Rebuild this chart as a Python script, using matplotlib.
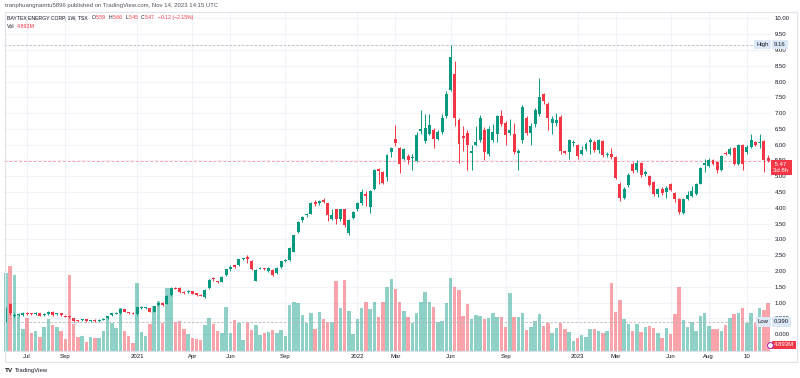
import matplotlib
matplotlib.use("Agg")
import matplotlib.pyplot as plt
import matplotlib.transforms as mtransforms
from matplotlib.lines import Line2D
from matplotlib.patches import Rectangle
import numpy as np

# ---- BAYTEX ENERGY CORP (TSX), weekly candles, Jun 2020 -> Nov 2023 ----
opens = [0.40, 0.97, 0.58, 0.61, 0.61, 0.67, 0.66, 0.63, 0.66, 0.61,
         0.64, 0.71, 0.63, 0.66, 0.59, 0.57, 0.51, 0.44, 0.45, 0.47,
         0.41, 0.45, 0.41, 0.46, 0.50, 0.60, 0.65, 0.66, 0.80, 0.68,
         0.68, 0.64, 0.82, 0.83, 0.82, 0.72, 0.92, 1.00, 0.97, 1.24,
         1.47, 1.46, 1.35, 1.33, 1.36, 1.29,
         1.25, 1.18, 1.45, 1.78, 1.68, 1.66, 1.87, 2.08, 2.18, 2.18,
         2.37, 2.43, 2.32, 1.69, 2.07, 2.08, 2.00, 2.03, 1.94, 2.13,
         2.31, 2.34, 2.61, 3.24, 3.61, 3.76, 3.82, 4.19, 4.15, 4.24,
         4.14, 3.66, 3.95, 3.64, 3.95, 3.21, 3.69, 3.95, 4.14, 4.45,
         4.03, 4.61, 5.22, 5.14, 4.97, 5.76, 6.17,
         5.88, 5.56, 5.63, 5.57, 5.49, 6.43, 6.12, 6.35, 6.48, 6.19,
         6.40, 6.90, 7.74, 8.23, 6.79, 6.28, 6.37, 5.74, 6.00, 6.16,
         6.46, 5.70, 6.16, 6.33, 6.91, 6.70, 6.38, 6.33, 5.74, 6.14,
         6.83, 6.37, 6.65, 6.98, 7.59, 7.30, 6.70, 6.70, 6.88, 5.80,
         5.77, 6.05, 6.00, 5.72, 5.86, 6.10, 6.10, 5.84,
         6.12, 5.68, 5.72, 5.61, 4.77, 4.32, 4.71, 5.40, 5.19, 5.42,
         5.08, 5.00, 4.82, 4.43, 4.61, 4.50, 4.77, 4.47, 4.27, 3.85,
         4.29, 4.38, 4.45, 4.77, 5.37, 5.33, 5.51, 5.45, 5.21, 5.74,
         5.72, 5.88, 5.38, 5.98, 5.77, 5.92, 6.09, 6.05, 6.12, 5.59]
highs = [0.85, 0.99, 0.66, 0.67, 0.70, 0.70, 0.68, 0.69, 0.68, 0.67,
         0.73, 0.74, 0.68, 0.68, 0.61, 0.58, 0.52, 0.46, 0.48, 0.48,
         0.46, 0.47, 0.47, 0.50, 0.59, 0.68, 0.69, 0.82, 0.81, 0.70,
         0.70, 0.87, 0.88, 0.86, 0.84, 0.91, 1.02, 1.02, 1.24, 1.48,
         1.50, 1.48, 1.37, 1.39, 1.37, 1.30,
         1.27, 1.43, 1.74, 1.82, 1.70, 1.83, 2.08, 2.18, 2.20, 2.39,
         2.42, 2.50, 2.35, 2.05, 2.13, 2.10, 2.12, 2.05, 2.12, 2.33,
         2.37, 2.75, 3.15, 3.60, 3.75, 3.84, 4.18, 4.26, 4.25, 4.30,
         4.16, 3.95, 3.97, 3.98, 3.97, 3.64, 3.90, 4.20, 4.60, 4.52,
         4.56, 5.22, 5.25, 5.16, 5.72, 5.93, 6.61,
         5.92, 5.90, 5.70, 5.70, 6.40, 7.11, 6.97, 6.98, 6.52, 6.45,
         6.98, 7.70, 9.16, 8.65, 6.85, 6.60, 6.45, 6.00, 6.60, 6.95,
         6.55, 6.60, 6.65, 6.95, 7.10, 6.75, 6.80, 6.70, 5.85, 7.25,
         6.90, 6.70, 7.15, 8.11, 7.65, 7.35, 6.90, 7.00, 6.95, 5.82,
         6.18, 6.15, 6.03, 5.95, 6.07, 6.20, 6.15, 6.19,
         6.15, 5.76, 5.90, 5.64, 4.82, 4.65, 5.10, 5.45, 5.50, 5.46,
         5.20, 5.05, 4.86, 4.64, 4.65, 4.70, 4.80, 4.50, 4.30, 4.32,
         4.55, 4.70, 4.78, 5.30, 5.55, 5.58, 5.55, 5.48, 5.66, 5.80,
         5.92, 5.92, 6.02, 6.02, 6.00, 6.35, 6.12, 6.35, 6.15, 5.66]
lows = [0.39, 0.62, 0.55, 0.57, 0.59, 0.62, 0.61, 0.61, 0.57, 0.59,
        0.62, 0.59, 0.61, 0.59, 0.54, 0.53, 0.40, 0.40, 0.43, 0.40,
        0.40, 0.40, 0.40, 0.44, 0.48, 0.58, 0.63, 0.64, 0.70, 0.64,
        0.63, 0.62, 0.80, 0.81, 0.70, 0.70, 0.90, 0.91, 0.95, 1.22,
        1.42, 1.30, 1.28, 1.31, 1.26, 1.22,
        1.20, 1.16, 1.43, 1.70, 1.62, 1.64, 1.85, 2.00, 2.10, 2.15,
        2.35, 2.25, 2.03, 1.67, 2.05, 2.03, 1.98, 1.85, 1.92, 2.11,
        2.29, 2.32, 2.59, 3.20, 3.55, 3.70, 3.80, 4.05, 4.10, 4.14,
        3.60, 3.62, 3.50, 3.60, 3.40, 3.15, 3.66, 3.90, 4.10, 4.05,
        3.85, 4.58, 4.75, 4.75, 4.85, 5.60, 5.95,
        5.09, 5.50, 5.40, 5.21, 5.45, 6.35, 6.05, 6.30, 5.90, 6.15,
        6.35, 6.85, 7.70, 6.60, 5.43, 5.80, 5.19, 5.20, 5.95, 6.10,
        5.50, 5.65, 6.10, 6.10, 6.60, 6.00, 6.30, 5.70, 5.20, 6.05,
        6.30, 6.00, 6.55, 6.90, 7.30, 6.45, 6.35, 6.60, 5.72, 5.70,
        5.55, 5.95, 5.55, 5.68, 5.80, 5.72, 5.78, 5.75,
        5.60, 5.62, 5.55, 4.90, 4.22, 4.28, 4.65, 5.10, 5.15, 4.98,
        5.00, 4.68, 4.38, 4.35, 4.40, 4.30, 4.52, 4.20, 3.80, 3.82,
        4.25, 4.35, 4.42, 4.75, 5.15, 5.30, 5.37, 5.10, 5.18, 5.66,
        5.68, 5.35, 5.35, 5.20, 5.70, 5.88, 5.95, 5.88, 5.15, 5.45]
closes = [0.81, 0.66, 0.62, 0.64, 0.68, 0.65, 0.63, 0.66, 0.59, 0.65,
          0.71, 0.61, 0.66, 0.61, 0.56, 0.55, 0.41, 0.42, 0.47, 0.41,
          0.45, 0.41, 0.45, 0.48, 0.58, 0.66, 0.67, 0.81, 0.72, 0.66,
          0.65, 0.85, 0.85, 0.85, 0.72, 0.90, 0.99, 0.93, 1.22, 1.46,
          1.44, 1.33, 1.32, 1.37, 1.28, 1.24,
          1.22, 1.41, 1.71, 1.74, 1.65, 1.81, 2.05, 2.13, 2.13, 2.37,
          2.40, 2.38, 2.05, 2.03, 2.10, 2.06, 2.10, 1.87, 2.10, 2.31,
          2.34, 2.73, 3.13, 3.55, 3.71, 3.80, 4.14, 4.12, 4.22, 4.18,
          3.77, 3.76, 3.64, 3.95, 3.45, 3.61, 3.87, 4.14, 4.50, 4.39,
          4.54, 5.19, 5.17, 4.80, 5.67, 5.89, 6.04,
          5.40, 5.85, 5.53, 5.61, 6.32, 6.49, 6.54, 6.61, 6.19, 6.40,
          6.83, 7.62, 8.78, 6.86, 6.03, 6.22, 5.98, 5.80, 6.07, 6.83,
          5.77, 6.51, 6.40, 6.91, 6.65, 6.30, 6.48, 5.77, 5.80, 7.19,
          6.37, 6.60, 7.10, 7.51, 7.38, 6.86, 6.80, 6.77, 5.80, 5.74,
          6.14, 6.10, 5.63, 5.84, 6.03, 6.14, 5.84, 6.14,
          5.66, 5.72, 5.61, 4.96, 4.32, 4.59, 5.03, 5.16, 5.42, 5.03,
          5.12, 4.71, 4.43, 4.59, 4.48, 4.64, 4.56, 4.29, 3.87, 4.29,
          4.40, 4.53, 4.75, 5.27, 5.41, 5.53, 5.40, 5.21, 5.63, 5.70,
          5.85, 5.38, 5.98, 5.38, 5.93, 6.16, 5.98, 6.09, 5.53, 5.47]
# weekly volume, millions of shares
volumes = [7.97, 8.75, 7.80, 3.69, 2.26, 3.42, 1.81, 2.05, 1.47, 2.43,
           3.25, 2.67, 2.50, 2.05, 1.27, 7.80, 2.73, 1.40, 1.54, 0.96,
           1.47, 1.30, 1.30, 2.05, 3.59, 2.90, 2.40, 4.45, 2.05, 1.54,
           0.79, 6.94, 1.98, 1.54, 2.77, 4.62, 5.16, 2.90, 6.43, 6.43,
           2.94, 3.08, 2.22, 1.71, 1.30, 1.20,
           1.13, 2.67, 3.35, 2.74, 2.05, 1.81, 4.48, 1.81, 3.18, 2.84,
           1.13, 3.00, 2.15, 2.67, 1.64, 1.81, 1.98, 2.15, 1.81, 2.15,
           1.54, 4.72, 5.06, 4.96, 3.69, 2.90, 3.86, 2.26, 3.97, 3.28,
           2.94, 3.00, 7.18, 4.38, 7.28, 4.10, 1.74, 3.25, 4.45, 5.00,
           4.27, 5.00, 3.52, 5.00, 6.60, 7.35, 6.33,
           5.06, 4.10, 3.45, 2.91, 3.86, 5.06, 6.09, 5.06, 4.48, 3.01,
           3.08, 4.96, 7.46, 6.60, 6.26, 3.62, 4.82, 3.25, 3.69, 3.62,
           3.32, 3.42, 3.93, 3.52, 3.52, 2.43, 5.92, 3.52, 3.52, 3.86,
           2.15, 2.50, 3.08, 3.80, 2.57, 2.84, 1.88, 2.33, 2.84, 2.26,
           1.92, 1.06, 1.33, 1.64, 1.47, 2.22, 2.22, 2.05,
           1.81, 2.05, 6.94, 4.04, 5.23, 3.28, 2.77, 2.09, 2.77, 1.95,
           2.43, 2.60, 2.33, 1.88, 1.30, 2.33, 1.74, 3.80, 6.60, 3.18,
           2.43, 3.00, 2.09, 3.59, 3.93, 2.60, 2.22, 2.22, 2.05, 2.67,
           3.35, 3.80, 3.87, 4.38, 2.84, 3.87, 2.90, 4.38, 4.20, 4.893]

# time axis: week index of the first bar of each labelled month
tick_weeks = [5, 14, 31, 44, 53, 66, 83, 92, 105, 118, 135, 144, 157, 166, 175]
tick_labels = ["Jul", "Sep", "2021", "Apr", "Jun", "Sep", "2022", "Mar",
               "Jun", "Sep", "2023", "Mar", "Jun", "Aug", "10"]
price_levels = [0.0, 0.5, 1.0, 1.5, 2.0, 2.5, 3.0, 3.5, 4.0, 4.5, 5.0,
                5.5, 6.0, 6.5, 7.0, 7.5, 8.0, 8.5, 9.0, 9.5, 10.0]

UP, DOWN = "#089981", "#F23645"
TXT = "#131722"
GRID = "#F0F3FA"
TAG_BLUE = "#DDE8F6"
FS = 4.3
plt.rcParams["font.family"] = ["Liberation Sans", "DejaVu Sans"]

x = np.arange(len(closes))
o, h, l, c = map(np.array, (opens, highs, lows, closes))
up = c >= o
colors = np.where(up, UP, DOWN)

fig = plt.figure(figsize=(8, 3.78), dpi=100)
W, H = 800, 378
rect = [4 / W, 1 - 351 / H, 767 / W, 339 / H]

# ---- volume pane (drawn underneath) ----
axv = fig.add_axes(rect)
ax = fig.add_axes(rect, sharex=axv)
ax.patch.set_alpha(0)

axv.set_ylim(0, 34.8)
for s in axv.spines.values():
    s.set_visible(False)
axv.tick_params(left=False, labelleft=False, bottom=False, labelbottom=False)
# grid, behind everything
for t in tick_weeks:
    axv.axvline(t, color=GRID, lw=0.8, zorder=0)
blend = mtransforms.blended_transform_factory(axv.transAxes, ax.transData)
for p in price_levels:
    axv.add_line(Line2D([0, 1], [p, p], transform=blend, color=GRID, lw=0.8, zorder=0))
axv.bar(x, volumes, width=0.82, color=colors, alpha=0.45, linewidth=0, zorder=1)

# ---- price pane ----
ax.set_xlim(-0.47, 180.7)
ax.set_ylim(-0.53, 10.2)
ax.vlines(x, l, h, colors=colors, lw=0.7, zorder=3)
body = np.maximum(np.abs(c - o), 0.03)
ax.bar(x, body, bottom=np.minimum(o, c), width=0.7, color=colors, linewidth=0, zorder=4)

for s in ["top", "left", "right"]:
    ax.spines[s].set_visible(False)
ax.spines["bottom"].set_color("#E0E3EB")
ax.spines["bottom"].set_linewidth(0.8)

ax.set_xticks(tick_weeks, tick_labels)
ax.tick_params(axis="x", length=0, pad=2.2, labelsize=FS, labelcolor=TXT)
ax.yaxis.tick_right()
ax.set_yticks(price_levels,
              [f"{p:.2f}" if p >= 1 else f"{p:.3f}" for p in price_levels])
ax.tick_params(axis="y", length=0, pad=2.5, labelsize=FS, labelcolor=TXT)

# reference lines: high, low, last price
ax.axhline(max(highs), color="#B2B5BE", lw=0.6, ls=(0, (3, 2)), zorder=2)
ax.axhline(min(lows), color="#B2B5BE", lw=0.6, ls=(0, (3, 2)), zorder=2)
ax.axhline(closes[-1], color=DOWN, alpha=0.45, lw=0.7, ls=(0, (3, 2)), zorder=2)

tag_tr = mtransforms.blended_transform_factory(ax.transAxes, ax.transData)
def tag(xa, y, s, fc, tc, ha="left"):
    ax.text(xa, y, s, transform=tag_tr, ha=ha, va="center", fontsize=FS, color=tc,
            bbox=dict(boxstyle="square,pad=0.35", fc=fc, ec="none"),
            clip_on=False, zorder=6, linespacing=1.25)

tag(1.004, max(highs), f"{max(highs):.2f}", TAG_BLUE, TXT)
tag(0.997, max(highs), "High", TAG_BLUE, TXT, ha="right")
tag(1.004, min(lows), f"{min(lows):.3f}", TAG_BLUE, TXT)
tag(0.997, min(lows), "Low", TAG_BLUE, TXT, ha="right")
tag(1.003, closes[-1] - 0.2, f" {closes[-1]:.2f}\n3d 8h ", DOWN, "white")
axv.text(1.004, 0.018, f"{volumes[-1]:.3f}M", transform=axv.transAxes, ha="left",
         va="center", fontsize=FS, color="white",
         bbox=dict(boxstyle="square,pad=0.3", fc=DOWN, ec="none"), clip_on=False, zorder=6)
axv.plot([0.9985], [0.018], marker="o", ms=4.2, mfc="white", mec="#9C27B0", mew=0.7,
         transform=axv.transAxes, clip_on=False, zorder=7)

# ---- header / legend text ----
fig.canvas.draw()
rend = fig.canvas.get_renderer()

def run_text(x0, y0, parts, fs):
    xp = x0
    for s, col, gap in parts:
        t = fig.text(xp / W, 1 - y0 / H, s, color=col, fontsize=fs, va="center")
        xp += t.get_window_extent(renderer=rend).width + gap

fig.text(5 / W, 1 - 6 / H, "tranphuangnamtu5896 published on TradingView.com, Nov 14, 2023 14:15 UTC",
         fontsize=FS, color="#50535E", va="center")
run_text(7, 17.5, [("BAYTEX ENERGY CORP, 1W, TSX", TXT, 4),
                   ("O", TXT, 0.5), ("5.59", DOWN, 2.5),
                   ("H", TXT, 0.5), ("5.66", DOWN, 2.5),
                   ("L", TXT, 0.5), ("5.45", DOWN, 2.5),
                   ("C", TXT, 0.5), ("5.47", DOWN, 3),
                   ("\u22120.12 (\u22122.15%)", DOWN, 0)], 3.7)
run_text(7, 27, [("Vol", TXT, 2.5), (f"{volumes[-1]:.3f}M", DOWN, 0)], 3.9)

# outer frame of the chart pane
fig.add_artist(Rectangle((5 / W, 1 - 362 / H), 792 / W, 350 / H, transform=fig.transFigure,
                         fill=False, ec="#E0E3EB", lw=0.8))
fig.text(5 / W, 1 - 370.5 / H, "TV", fontsize=FS + 0.3, fontweight="bold", color=TXT, va="center")
fig.text(15 / W, 1 - 370.5 / H, "TradingView", fontsize=FS, color=TXT, va="center")

fig.savefig("out.png", dpi=100)
